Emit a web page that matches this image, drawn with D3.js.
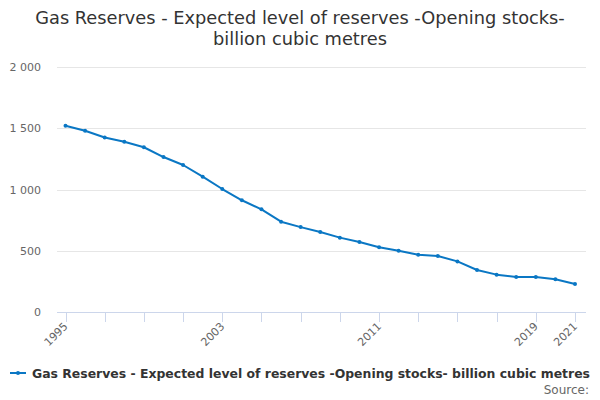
<!DOCTYPE html>
<html lang="en">
  <head>
    <meta charset="utf-8" />
    <title>Gas Reserves</title>
    <script src="https://cdn.jsdelivr.net/npm/d3@7"></script>
    <style>
      body { margin: 0; background: white; }
      text { font-family: "DejaVu Sans", sans-serif; }
    </style>
  </head>
  <body>
    <script>
var years = d3.range(1995, 2022);
var reserves = [1520, 1480, 1425, 1390, 1345, 1265, 1200, 1105, 1004, 912,
                838, 737, 693, 653, 607, 571, 528, 500, 468, 457,
                413, 343, 305, 286, 286, 267, 229];
var yTicks = [0, 500, 1000, 1500, 2000];
var xTickLabels = [1995, 2003, 2011, 2019, 2021];
var titleLines = ["Gas Reserves - Expected level of reserves -Opening stocks-",
                  "billion cubic metres"];
var seriesName = "Gas Reserves - Expected level of reserves -Opening stocks- billion cubic metres";

var w = 600, h = 400;
var pad = { left: 57, right: 14, top: 67, bottom: 88 };
var color = "#0a77c4";

var svg = d3.select("body").append("svg")
            .attr("width", w)
            .attr("height", h);

var x = d3.scaleLinear()
          .domain([1995, 2021])
          .range([65.5, 575]);
var y = d3.scaleLinear()
          .domain([0, 2000])
          .range([h - pad.bottom, pad.top]);

// title
svg.append("g")
   .selectAll("text")
   .data(titleLines)
   .enter()
   .append("text")
   .attr("x", w / 2)
   .attr("y", function(d, i) { return 24 + i * 21; })
   .attr("text-anchor", "middle")
   .attr("font-size", "17.8px")
   .attr("fill", "#333333")
   .text(function(d) { return d; });

// grid + y labels
var yAxis = svg.append("g");
yAxis.selectAll("line")
     .data(yTicks.filter(function(d) { return d > 0; }))
     .enter()
     .append("line")
     .attr("x1", pad.left)
     .attr("x2", w - pad.right)
     .attr("y1", function(d) { return Math.round(y(d)) + 0.5; })
     .attr("y2", function(d) { return Math.round(y(d)) + 0.5; })
     .attr("stroke", "#e6e6e6");
yAxis.selectAll("text")
     .data(yTicks)
     .enter()
     .append("text")
     .attr("x", 41)
     .attr("y", function(d) { return y(d) + 4; })
     .attr("text-anchor", "end")
     .attr("font-size", "11px")
     .attr("fill", "#666666")
     .text(function(d) { return d3.format(",")(d).replace(/,/g, " "); });

// x axis
var xAxis = svg.append("g");
xAxis.append("line")
     .attr("x1", pad.left)
     .attr("x2", w - pad.right)
     .attr("y1", y(0) + 0.5)
     .attr("y2", y(0) + 0.5)
     .attr("stroke", "#ccd6eb");
xAxis.selectAll("line.tick")
     .data(d3.range(1995, 2022, 2))
     .enter()
     .append("line")
     .attr("class", "tick")
     .attr("x1", function(d) { return Math.round(x(d)) + 0.5; })
     .attr("x2", function(d) { return Math.round(x(d)) + 0.5; })
     .attr("y1", y(0))
     .attr("y2", y(0) + 10)
     .attr("stroke", "#ccd6eb");
xAxis.selectAll("text")
     .data(xTickLabels)
     .enter()
     .append("text")
     .attr("transform", function(d) {
       return "translate(" + (x(d) + 3) + "," + (y(0) + 15) + ") rotate(-45)";
     })
     .attr("text-anchor", "end")
     .attr("font-size", "11px")
     .attr("fill", "#666666")
     .text(function(d) { return d; });

// series line
var line = d3.line()
             .x(function(d, i) { return x(years[i]); })
             .y(function(d) { return y(d); });
svg.append("path")
   .datum(reserves)
   .attr("d", line)
   .attr("fill", "none")
   .attr("stroke", color)
   .attr("stroke-width", 2)
   .attr("stroke-linejoin", "round");
svg.append("g")
   .selectAll("circle")
   .data(reserves)
   .enter()
   .append("circle")
   .attr("cx", function(d, i) { return x(years[i]); })
   .attr("cy", function(d) { return y(d); })
   .attr("r", 2)
   .attr("fill", color);

// legend
var legend = svg.append("g");
legend.append("line")
      .attr("x1", 10).attr("x2", 26)
      .attr("y1", 373).attr("y2", 373)
      .attr("stroke", color)
      .attr("stroke-width", 2);
legend.append("circle")
      .attr("cx", 18).attr("cy", 373).attr("r", 2)
      .attr("fill", color);
legend.append("text")
      .attr("x", 32)
      .attr("y", 378)
      .attr("font-size", "12.6px")
      .attr("font-weight", "bold")
      .attr("fill", "#333333")
      .attr("textLength", 558)
      .attr("lengthAdjust", "spacingAndGlyphs")
      .text(seriesName);

svg.append("text")
   .attr("x", 589)
   .attr("y", 394)
   .attr("text-anchor", "end")
   .attr("font-size", "12px")
   .attr("fill", "#666666")
   .text("Source:");
    </script>
  </body>
</html>
